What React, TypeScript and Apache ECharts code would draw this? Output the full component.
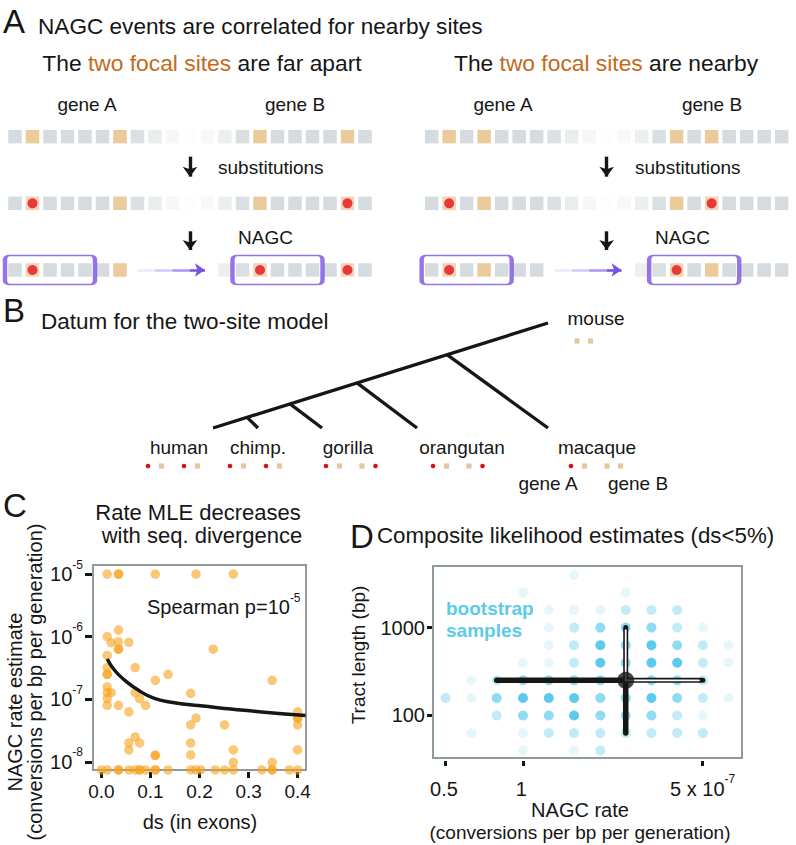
import React, { useEffect, useRef } from "react";
import * as echarts from "echarts";

const FONT = "'Liberation Sans', Arial, Helvetica, sans-serif";
const INK = "#161616";
const GRAY = "#d5dbde";
const TAN = "#ebcb9c";
const TAN_HIT = "#f1d3b7";
const RED = "#e5121a";
const PURPLE = "#7a50e2";
const ORANGE = "#f6a11a";
const CYAN = "#33bde6";
const CYAN_TEXT = "#5ccbea";
const FOCAL_TEXT = "#c46a1c";
const FRAME = "#8f9a9c";

// ---------------- Panel A: site states (g other site, t focal site, r focal site with derived allele, - hidden)
const stageNames = ["start", "substitutions", "NAGC"];
const farApartStates = [
  "gtggggtgggggggtggggtg",
  "grggggtgggggggtggggrg",
  "grggggt-----ggrggggrg",
];
const nearbyStates = [
  "gtgtggggggggggtgtgggg",
  "grgtggggggggggtgrgggg",
  "grgtggg-----ggrgtgggg",
];
const donorRange = [0, 4];
const acceptorRange = [13, 17];

// ---------------- Panel B: species and their focal-site states
const speciesNames = ["human", "chimp.", "gorilla", "orangutan", "macaque"];
const speciesSiteStates = ["rtrt", "rtrt", "rttr", "rttr", "rttt"];
const outgroupName = "mouse";
const outgroupSiteStates = "tt";

// ---------------- Panel C: rate MLE vs ds
const dsValues = [
  0.012, 0.035, 0.035, 0.110, 0.193, 0.269,
  0.035, 0.012, 0.020, 0.035, 0.056, 0.035, 0.035, 0.012, 0.228,
  0.012, 0.012, 0.012, 0.069, 0.136, 0.110, 0.348,
  0.012, 0.012, 0.020, 0.069, 0.012, 0.078, 0.012, 0.035, 0.090, 0.182,
  0.056, 0.400, 0.400, 0.400, 0.400, 0.193, 0.182, 0.251,
  0.069, 0.056, 0.078, 0.056, 0.182, 0.400, 0.269, 0.182, 0.110, 0.110, 0.269, 0.348,
  0.000, 0.012, 0.035, 0.035, 0.056, 0.069, 0.078, 0.078, 0.090, 0.110, 0.110, 0.136,
  0.182, 0.193, 0.203, 0.232, 0.251, 0.269, 0.327, 0.348, 0.348, 0.383, 0.400,
];
const rateValues = [
  1e-5, 1e-5, 1e-5, 1e-5, 1e-5, 1e-5,
  1.27e-6, 1.0e-6, 8.0e-7, 8.3e-7, 8.1e-7, 6.3e-7, 6.3e-7, 5.0e-7, 6.3e-7,
  3.2e-7, 2.5e-7, 2.5e-7, 3.2e-7, 2.5e-7, 2.0e-7, 2.0e-7,
  1.58e-7, 1.27e-7, 1.27e-7, 1.27e-7, 1.02e-7, 1.02e-7, 8.0e-8, 8.0e-8, 8.0e-8, 1.24e-7,
  6.3e-8, 6.3e-8, 5.0e-8, 5.0e-8, 3.9e-8, 5.0e-8, 3.9e-8, 3.9e-8,
  2.5e-8, 2.0e-8, 2.0e-8, 1.55e-8, 2.0e-8, 1.55e-8, 1.55e-8, 1.29e-8, 1.27e-8, 1.27e-8, 9.8e-9, 9.8e-9,
  7.4e-9, 7.4e-9, 7.4e-9, 7.4e-9, 7.4e-9, 7.4e-9, 7.4e-9, 7.4e-9, 7.4e-9, 7.4e-9, 7.4e-9, 7.4e-9,
  7.4e-9, 7.4e-9, 7.4e-9, 7.4e-9, 7.4e-9, 7.4e-9, 7.4e-9, 7.4e-9, 7.4e-9, 7.4e-9, 7.4e-9,
];
const fitDs = [0.012, 0.027, 0.048, 0.075, 0.108, 0.149, 0.197, 0.264, 0.332, 0.416];
const fitRate = [4.4e-7, 2.9e-7, 2.0e-7, 1.4e-7, 1.03e-7, 8.8e-8, 7.9e-8, 7.0e-8, 6.2e-8, 5.5e-8];
const dsTicks = [0, 0.1, 0.2, 0.3, 0.4];
const rateTickExponents = [-8, -7, -6, -5];

// ---------------- Panel D: composite likelihood bootstrap (rate in units of 1e-7)
const bootRates = [0.5, 0.63, 0.79, 1, 1.26, 1.58, 2.0, 2.51, 3.16, 3.98, 5.01, 6.31];
const bootTracts = [3981, 2512, 1585, 1000, 631, 398, 251, 158, 100, 63, 40];
const bootDensity = [
  [0, 0, 0, 0, 0, 1, 0, 0, 0, 0, 0, 0],
  [0, 0, 0, 1, 0, 0, 0, 1, 0, 0, 0, 0],
  [0, 0, 0, 0, 1, 1, 1, 2, 2, 2, 0, 0],
  [0, 0, 0, 0, 1, 2, 3, 3, 3, 2, 1, 0],
  [0, 0, 0, 0, 1, 2, 4, 3, 4, 3, 2, 1],
  [0, 0, 0, 1, 1, 2, 4, 3, 4, 4, 2, 1],
  [0, 1, 2, 3, 3, 3, 3, 3, 3, 3, 2, 0],
  [2, 1, 3, 4, 4, 4, 3, 3, 4, 3, 2, 1],
  [0, 0, 2, 3, 3, 4, 3, 3, 3, 2, 1, 0],
  [0, 1, 0, 1, 2, 2, 2, 2, 2, 2, 2, 0],
  [0, 0, 0, 1, 0, 1, 2, 0, 0, 0, 0, 0],
];
const estRate = 2.51;
const estTract = 251;
const rateCI = [0.79, 5.01];
const tractCI = [63, 1000];
const rateTicks = [0.5, 1, 5];
const tractTicks = [100, 1000];

// ---------------- styles
const CELL_FADE = [1, 1, 1, 1, 1, 1, 1, 0.85, 0.5, 0.22, 0.05, 0.18, 0.45, 0.88, 1, 1, 1, 1, 1, 1, 1];
const DENSITY_OPACITY = [0, 0.12, 0.3, 0.55, 0.8];
const ARROW_FADE = [0.12, 0.3, 0.6, 1];
const A_GRID_W = 367.5;
const SITE_PITCH = A_GRID_W / farApartStates[0].length;

const lg = (v: number) => Math.log10(v);

function supRich(size: number, color: string, zr: boolean) {
  const c = zr ? { fill: color } : { color };
  return {
    b: { fontSize: size, lineHeight: size, fontFamily: FONT, ...c },
    s: { fontSize: Math.round(size * 0.6), fontFamily: FONT, padding: [0, 0, Math.round(size * 0.95), 0], verticalAlign: "top", ...c },
  };
}

function txt(text: string, x: number, y: number, size: number, extra: any = {}, el: any = {}) {
  return {
    type: "text",
    x,
    y,
    silent: true,
    ...el,
    style: { text, fontSize: size, fontFamily: FONT, fill: INK, align: "left", verticalAlign: "middle", ...extra },
  };
}

function roundRectPath(w: number, h: number, r: number) {
  return `path://M${r},0H${w - r}A${r},${r},0,0,1,${w},${r}V${h - r}A${r},${r},0,0,1,${w - r},${h}H${r}A${r},${r},0,0,1,0,${h - r}V${r}A${r},${r},0,0,1,${r},0Z`;
}

function panelASeries(states: string[], grid: number) {
  const cells: any[] = [];
  const hits: any[] = [];
  states.forEach((row, r) => {
    row.split("").forEach((c, i) => {
      if (c === "-") return;
      cells.push({
        value: [i, r],
        itemStyle: { color: c === "g" ? GRAY : c === "r" ? TAN_HIT : TAN, opacity: CELL_FADE[i] },
      });
      if (c === "r") hits.push([i, r]);
    });
  });
  const nagcRow = stageNames.length - 1;
  const boxW = (donorRange[1] - donorRange[0] + 1) * SITE_PITCH + 2.5;
  const downArrow = (y0: number, y1: number) => [
    { coord: [10, y0], symbol: "none", lineStyle: { color: INK, width: 3.4, type: "solid" } },
    { coord: [10, y1], symbol: "arrow", symbolSize: [11, 10] },
  ];
  const arrowStops = [7, 8, 9, 10, 10.85];
  const purpleSegs = ARROW_FADE.map((op, k) => [
    { coord: [arrowStops[k], nagcRow], symbol: "none", lineStyle: { color: PURPLE, opacity: op, width: 2.6, type: "solid" } },
    { coord: [arrowStops[k + 1], nagcRow], symbol: k === ARROW_FADE.length - 1 ? "arrow" : "none", symbolSize: [10, 10] },
  ]);
  return [
    {
      type: "scatter", xAxisIndex: grid, yAxisIndex: grid, silent: true, z: 2,
      symbol: "rect", symbolSize: 13.5, data: cells,
    },
    {
      type: "scatter", xAxisIndex: grid, yAxisIndex: grid, silent: true, z: 3,
      symbol: "circle", symbolSize: 10, itemStyle: { color: RED }, data: hits,
    },
    {
      type: "scatter", xAxisIndex: grid, yAxisIndex: grid, silent: true, z: 4,
      symbol: roundRectPath(boxW, 29, 4), symbolSize: [boxW, 29], symbolKeepAspect: false,
      itemStyle: { color: "rgba(0,0,0,0)", borderColor: PURPLE, borderWidth: 2.5 },
      data: [
        [(donorRange[0] + donorRange[1]) / 2, nagcRow],
        [(acceptorRange[0] + acceptorRange[1]) / 2, nagcRow],
      ],
      markLine: {
        silent: true,
        symbol: ["none", "none"],
        label: { show: false },
        lineStyle: { type: "solid" },
        data: [downArrow(0.3, 0.6), downArrow(1.42, 1.7), ...purpleSegs],
      },
    },
  ];
}

function buildOption() {
  const hiddenAxis = (gi: number, min: number, max: number, inverse = false) => ({
    type: "value", gridIndex: gi, min, max, inverse, show: false,
  });
  const tick = (len: number) => ({ show: true, length: len, lineStyle: { color: INK, width: 3 } });

  // Panel C
  const cPoints = dsValues.map((d, i) => [d, lg(rateValues[i])]);
  const cFit = fitDs.map((d, i) => [d, lg(fitRate[i])]);

  // Panel D
  const dPoints: any[] = [];
  bootDensity.forEach((row, r) =>
    row.forEach((lev, c) => {
      if (!lev) return;
      dPoints.push({ value: [lg(bootRates[c]), lg(bootTracts[r])], itemStyle: { opacity: DENSITY_OPACITY[lev] } });
    })
  );
  const ex = lg(estRate);
  const ey = lg(estTract);
  const seg = (pts: number[][], width: number, color: string, z: number) => ({
    type: "line", xAxisIndex: 3, yAxisIndex: 3, silent: true, z,
    symbol: "none", data: pts,
    lineStyle: { color, width, cap: "round" },
  });

  // graphic: titles, schematic, tree
  const g: any[] = [];
  g.push(txt("A", 3, 21, 33));
  g.push(txt("NAGC events are correlated for nearby sites", 38, 26, 22.6));
  const sub = (rest: string) => ({
    text: `{k|The }{o|two focal sites}{k| ${rest}}`,
    rich: {
      k: { fontSize: 22.8, fontFamily: FONT, fill: INK },
      o: { fontSize: 22.8, fontFamily: FONT, fill: FOCAL_TEXT },
    },
    align: "center",
  });
  g.push(txt("", 202, 63, 22.8, sub("are far apart")));
  g.push(txt("", 606, 63, 22.8, sub("are nearby")));
  [[87, "gene A"], [295, "gene B"], [503, "gene A"], [712, "gene B"]].forEach(([x, t]) =>
    g.push(txt(t as string, x as number, 104, 19, { align: "center" }))
  );
  g.push(txt("substitutions", 218, 167, 19));
  g.push(txt("substitutions", 635, 167, 19));
  g.push(txt("NAGC", 238, 237, 19));
  g.push(txt("NAGC", 655, 237, 19));

  g.push(txt("B", 3, 310, 33));
  g.push(txt("Datum for the two-site model", 41, 321, 22.5));
  // tree
  const root = [213, 428];
  const tipMouse = [548, 323];
  const slope = (tipMouse[1] - root[1]) / (tipMouse[0] - root[0]);
  const onMain = (x: number) => [x, root[1] + slope * (x - root[0])];
  const line = (a: number[], b: number[]) => ({
    type: "line", silent: true,
    shape: { x1: a[0], y1: a[1], x2: b[0], y2: b[1] },
    style: { stroke: INK, lineWidth: 3.3 },
  });
  g.push(line(root, tipMouse));
  g.push(line(onMain(247), [258, 428]));
  g.push(line(onMain(290), [322, 428]));
  g.push(line(onMain(357), [417, 428]));
  g.push(line(onMain(447), [548, 428]));
  const labelX = [179, 258, 348, 462, 597];
  const groupLeft = [148, 230, 326, 433, 571];
  const siteOffsets = [0, 13.5, 36, 49.5];
  const siteMark = (x: number, y: number, s: string) =>
    s === "r"
      ? { type: "circle", silent: true, shape: { cx: x, cy: y, r: 2.3 }, style: { fill: "#d8101a" } }
      : { type: "rect", silent: true, shape: { x: x - 2.6, y: y - 2.6, width: 5.2, height: 5.2 }, style: { fill: "#e2c7a0" } };
  speciesNames.forEach((n, k) => {
    g.push(txt(n, labelX[k], 447, 19, { align: "center" }));
    speciesSiteStates[k].split("").forEach((s, j) => g.push(siteMark(groupLeft[k] + siteOffsets[j], 466, s)));
  });
  g.push(txt(outgroupName, 596, 318, 19, { align: "center" }));
  outgroupSiteStates.split("").forEach((s, j) => g.push(siteMark(577 + siteOffsets[j], 341, s)));
  g.push(txt("gene A", 548, 483, 19, { align: "center" }));
  g.push(txt("gene B", 638, 483, 19, { align: "center" }));

  // panel C texts
  g.push(txt("C", 3, 505, 33));
  g.push(txt("Rate MLE decreases", 198, 512, 22, { align: "center" }));
  g.push(txt("with seq. divergence", 202, 535, 22, { align: "center" }));
  g.push(txt("NAGC rate estimate", 14.5, 702, 20, { align: "center" }, { rotation: Math.PI / 2 }));
  g.push(txt("(conversions per bp per generation)", 35, 682, 20, { align: "center" }, { rotation: Math.PI / 2 }));
  g.push(txt("ds (in exons)", 200, 822, 20, { align: "center" }));
  g.push(txt("", 147, 607, 20, { text: "{b|Spearman p=10}{s|-5}", rich: supRich(20, INK, true) }));

  // panel D texts
  g.push(txt("D", 350, 536, 33));
  g.push(txt("Composite likelihood estimates (ds<5%)", 377, 535, 22.3));
  g.push(txt("Tract length (bp)", 358, 655, 19, { align: "center" }, { rotation: Math.PI / 2 }));
  g.push(txt("NAGC rate", 580, 810, 20, { align: "center" }));
  g.push(txt("(conversions per bp per generation)", 580, 832, 19, { align: "center" }));
  g.push(txt("bootstrap", 446, 608, 19, { fill: CYAN_TEXT, fontWeight: "bold" }, { z: 10 }));
  g.push(txt("samples", 446, 630, 19, { fill: CYAN_TEXT, fontWeight: "bold" }, { z: 10 }));

  const aTop = 103.3;
  const noZero = { show: false, onZero: false };
  return {
    animation: false,
    textStyle: { fontFamily: FONT },
    grid: [
      { left: 6.25, top: aTop, width: A_GRID_W, height: 200, show: false, outerBoundsMode: "none" },
      { left: 422.9, top: aTop, width: A_GRID_W, height: 200, show: false, outerBoundsMode: "none" },
      { left: 93, top: 565, width: 213, height: 205, show: true, borderColor: FRAME, borderWidth: 2, backgroundColor: "transparent", outerBoundsMode: "none" },
      { left: 433, top: 566, width: 309, height: 192, show: true, borderColor: FRAME, borderWidth: 2, backgroundColor: "transparent", outerBoundsMode: "none" },
    ],
    xAxis: [
      hiddenAxis(0, -0.5, 20.5),
      hiddenAxis(1, -0.5, 20.5),
      {
        type: "value", gridIndex: 2, min: -0.017, max: 0.417, offset: 2,
        axisLine: noZero, splitLine: { show: false },
        axisTick: { ...tick(6), customValues: dsTicks },
        axisLabel: { customValues: dsTicks, formatter: (v: number) => v.toFixed(1), fontSize: 19, color: INK, margin: 10, fontFamily: FONT },
      },
      {
        type: "value", gridIndex: 3, min: -0.35, max: 0.852, offset: 3,
        axisLine: noZero, splitLine: { show: false },
        axisTick: { ...tick(5), customValues: rateTicks.map(lg) },
        axisLabel: {
          customValues: rateTicks.map(lg),
          formatter: (v: number) => {
            const r = Math.pow(10, v);
            const last = Math.abs(r - rateTicks[rateTicks.length - 1]) < 1e-6;
            return last ? `{b|${Math.round(r)} x 10}{s|-7}` : `{b|${+r.toFixed(1)}}{s| }`;
          },
          rich: supRich(20, INK, false), margin: 12, fontFamily: FONT,
        },
      },
    ],
    yAxis: [
      hiddenAxis(0, -0.5, 2.5, true),
      hiddenAxis(1, -0.5, 2.5, true),
      {
        type: "value", gridIndex: 2, min: -8.131, max: -4.856, offset: 1,
        axisLine: noZero, splitLine: { show: false },
        axisTick: { ...tick(7), customValues: rateTickExponents },
        axisLabel: {
          customValues: rateTickExponents,
          formatter: (v: number) => `{b|10}{s|${Math.round(v)}}`,
          rich: supRich(20, INK, false), margin: 9, fontFamily: FONT,
        },
      },
      {
        type: "value", gridIndex: 3, min: 1.516, max: 3.701, offset: 1,
        axisLine: noZero, splitLine: { show: false },
        axisTick: { ...tick(5), customValues: tractTicks.map(lg) },
        axisLabel: {
          customValues: tractTicks.map(lg),
          formatter: (v: number) => String(Math.round(Math.pow(10, v))),
          fontSize: 20, color: INK, margin: 7, fontFamily: FONT,
        },
      },
    ],
    graphic: g,
    series: [
      ...panelASeries(farApartStates, 0),
      ...panelASeries(nearbyStates, 1),
      {
        type: "scatter", xAxisIndex: 2, yAxisIndex: 2, silent: true, clip: true, z: 3,
        symbolSize: 9.5, itemStyle: { color: ORANGE, opacity: 0.6 }, data: cPoints,
      },
      {
        type: "line", xAxisIndex: 2, yAxisIndex: 2, silent: true, clip: true, z: 4,
        smooth: true, symbol: "none", data: cFit, lineStyle: { color: INK, width: 3.5 },
      },
      {
        type: "scatter", xAxisIndex: 3, yAxisIndex: 3, silent: true, z: 2,
        symbolSize: 10, itemStyle: { color: CYAN }, data: dPoints,
      },
      seg([[lg(rateCI[0]), ey], [ex, ey]], 5.5, INK, 4),
      seg([[ex, lg(tractCI[0])], [ex, ey]], 5.5, INK, 4),
      seg([[ex, ey], [lg(rateCI[1]), ey]], 5, INK, 4),
      seg([[ex, ey], [ex, lg(tractCI[1])]], 5, INK, 4),
      seg([[ex, ey], [lg(rateCI[1]) - 0.015, ey]], 1.8, "#ffffff", 5),
      seg([[ex, ey], [ex, lg(tractCI[1]) - 0.03]], 1.8, "#ffffff", 5),
      {
        type: "scatter", xAxisIndex: 3, yAxisIndex: 3, silent: true, z: 6,
        symbolSize: 17, itemStyle: { color: INK }, data: [[ex, ey]],
      },
    ],
  };
}

export default function App() {
  const ref = useRef<HTMLDivElement>(null);
  useEffect(() => {
    if (!ref.current) return;
    const chart = echarts.init(ref.current, undefined, { renderer: "svg" });
    chart.setOption(buildOption() as any);
    return () => chart.dispose();
  }, []);
  return (
    <div
      ref={ref}
      style={{ position: "absolute", left: 0, top: 0, width: 796, height: 845, background: "#ffffff" }}
    />
  );
}
